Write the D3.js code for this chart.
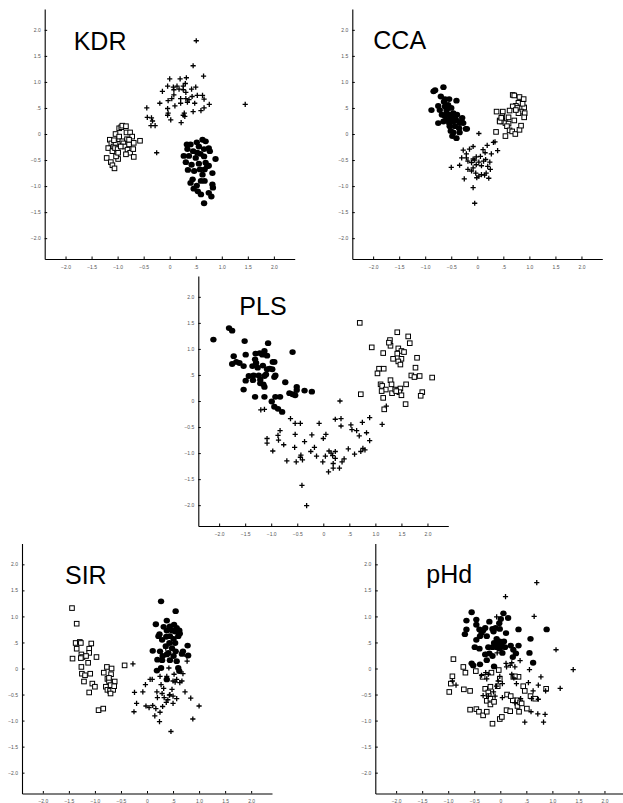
<!DOCTYPE html>
<html>
<head>
<meta charset="utf-8">
<script src="https://cdn.jsdelivr.net/npm/d3@7"></script>
<style>
  body { margin: 0; background: #fff; }
  svg { display: block; }
  .tick text { font-family: "Liberation Sans", Arial, sans-serif; font-size: 5px; fill: #555; }
  .title { font-family: "Liberation Sans", Arial, sans-serif; font-size: 25px; fill: #000; }
</style>
</head>
<body>
<svg id="chart" width="623" height="803"></svg>
<script>
// tick values shared by every panel
var tickValues = [-2, -1.5, -1, -0.5, 0, 0.5, 1, 1.5, 2];
var axisDomain = [-2.4, 2.4];

// ---- KDR ----
var kdrPlus = [[0.51,1.79],[0.45,1.31],[0.65,1.11],[0,1.06],[0.2,1.06],[0.32,1.08],[0.3,0.97],[0.26,0.92],
  [-0.04,0.92],[0.07,0.9],[0.14,0.92],[-0.14,0.82],[0.08,0.85],[0.18,0.86],[0.26,0.85],[0.42,0.86],[0.5,0.9],
  [0.31,0.8],[0.21,0.68],[0.31,0.68],[0.37,0.66],[0.43,0.72],[0.53,0.74],[0.63,0.74],[0.66,0.67],[0.76,0.57],
  [0.66,0.5],[0.6,0.45],[0.45,0.43],[0.48,0.59],[0.34,0.61],[0.21,0.59],[0.1,0.54],[-0.04,0.49],[-0.03,0.4],
  [-0.04,0.36],[0.02,0.27],[0.28,0.4],[0.29,0.34],[0.26,0.36],[0.22,0.22],[-0.03,0.64],[-0.19,0.59],[-0.44,0.5],
  [-0.43,0.32],[-0.35,0.31],[-0.33,0.25],[-0.36,0.16],[-0.28,0.16],[-0.25,-0.36],[1.45,0.57],[0.04,0.68],[0.08,0.75]];
var kdrSquare = [[-1.21,-0.46],[-1.13,-0.54],[-1.1,-0.6],[-1.06,-0.66],[-0.99,-0.48],[-1.03,-0.43],[-1.18,-0.27],
  [-1.15,-0.11],[-1.12,-0.18],[-1.08,-0.24],[-1.1,-0.33],[-1.05,-0.27],[-1.0,-0.29],[-1.04,-0.17],[-0.97,-0.1],
  [-1.04,0.0],[-0.97,-0.05],[-0.97,0.11],[-0.93,0.13],[-0.91,0.16],[-0.84,0.15],[-0.83,0.03],[-0.76,0.03],
  [-0.72,-0.05],[-0.82,-0.1],[-0.91,-0.14],[-0.89,-0.18],[-0.86,-0.24],[-0.78,-0.2],[-0.81,-0.3],[-0.76,-0.36],
  [-0.84,-0.39],[-0.7,-0.29],[-0.69,-0.17],[-0.57,-0.13],[-0.69,-0.44],[-0.78,-0.11],[-0.94,-0.24],[-0.99,-0.36],
  [-1.07,-0.12]];
var kdrCircle = [[0.63,-0.11],[0.69,-0.14],[0.52,-0.16],[0.4,-0.2],[0.56,-0.24],[0.75,-0.27],[0.66,-0.29],
  [0.34,-0.29],[0.45,-0.33],[0.59,-0.38],[0.77,-0.33],[0.27,-0.42],[0.37,-0.42],[0.5,-0.46],[0.66,-0.43],
  [0.88,-0.48],[0.31,-0.54],[0.42,-0.59],[0.56,-0.57],[0.69,-0.55],[0.75,-0.61],[0.35,-0.69],[0.47,-0.71],
  [0.58,-0.68],[0.67,-0.68],[0.82,-0.75],[0.63,-0.78],[0.44,-0.87],[0.6,-0.9],[0.4,-0.94],[0.52,-0.99],
  [0.67,-0.9],[0.82,-0.97],[0.46,-1.05],[0.54,-1.1],[0.6,-1.16],[0.75,-1.13],[0.8,-1.2],[0.66,-1.33],
  [0.83,-1.03],[0.72,-0.62],[0.53,-0.36],[0.33,-0.2]];

// ---- CCA ----
var ccaCircle = [[-0.84,0.82],[-0.81,0.84],[-0.65,0.9],[-0.7,0.72],[-0.62,0.67],[-0.54,0.67],[-0.4,0.64],
  [-0.88,0.46],[-0.75,0.54],[-0.72,0.46],[-0.62,0.53],[-0.56,0.56],[-0.5,0.5],[-0.59,0.4],[-0.52,0.37],
  [-0.46,0.4],[-0.43,0.32],[-0.56,0.27],[-0.75,0.21],[-0.65,0.24],[-0.53,0.15],[-0.46,0.24],[-0.4,0.26],
  [-0.34,0.21],[-0.29,0.31],[-0.35,0.11],[-0.22,0.1],[-0.2,0.1],[-0.34,0.03],[-0.46,0.03],[-0.48,-0.04],
  [-0.4,-0.08],[-0.51,0.06],[-0.64,0.62],[-0.59,0.46],[-0.68,0.37],[-0.5,0.31],[-0.39,0.37],[-0.3,0.24],
  [-0.27,0.21],[-0.54,0.21],[-0.62,0.34],[-0.43,0.15],[-0.56,0.5]];
var ccaSquare = [[0.68,0.75],[0.71,0.74],[0.81,0.71],[0.89,0.67],[0.79,0.6],[0.9,0.51],[0.74,0.54],[0.68,0.53],
  [0.62,0.45],[0.49,0.43],[0.37,0.43],[0.77,0.5],[0.84,0.43],[0.91,0.4],[0.9,0.32],[0.79,0.4],[0.74,0.46],
  [0.48,0.34],[0.43,0.26],[0.48,0.24],[0.54,0.21],[0.6,0.2],[0.43,0.24],[0.57,0.15],[0.62,0.07],[0.67,0.05],
  [0.73,0.0],[0.81,0.08],[0.84,0.16],[0.71,0.26],[0.54,-0.04],[0.36,0.04],[0.46,0.31],[0.6,0.32],[0.87,0.58]];
var ccaPlus = [[0.03,0.01],[0.31,-0.16],[0.34,-0.15],[0.39,-0.32],[0.19,-0.22],[0.11,-0.3],[0.15,-0.36],
  [0.06,-0.43],[-0.02,-0.44],[-0.05,-0.5],[-0.08,-0.24],[-0.15,-0.29],[-0.27,-0.31],[-0.3,-0.46],[-0.34,-0.6],
  [-0.21,-0.38],[-0.18,-0.52],[-0.11,-0.55],[-0.08,-0.65],[-0.02,-0.59],[0.03,-0.54],[0.08,-0.61],[0.12,-0.52],
  [0.16,-0.49],[0.2,-0.62],[0.24,-0.54],[0.25,-0.68],[0.17,-0.75],[0.14,-0.79],[0.08,-0.78],[-0.01,-0.84],
  [0.03,-0.81],[-0.03,-0.75],[-0.11,-0.71],[-0.18,-0.68],[-0.25,-0.86],[-0.5,-0.64],[-0.08,-1.03],[-0.05,-1.33],
  [0.22,-0.85],[0.27,-0.38],[-0.08,-0.48],[-0.21,-0.46]];

// ---- PLS ----
var plsCircle = [[-2.11,1.18],[-1.81,1.4],[-1.75,1.35],[-1.51,1.15],[-1.06,1.11],[-1.72,0.86],[-1.75,0.71],
  [-1.67,0.75],[-1.61,0.73],[-1.53,0.67],[-1.49,0.89],[-1.3,0.91],[-1.22,0.92],[-1.17,0.89],[-1.13,0.96],
  [-1.08,0.87],[-1.31,0.8],[-1.29,0.73],[-1.36,0.67],[-1.26,0.64],[-1.16,0.68],[-1.08,0.61],[-0.97,0.75],
  [-0.94,0.75],[-0.98,0.61],[-1.03,0.62],[-1.43,0.48],[-1.49,0.39],[-1.34,0.49],[-1.35,0.4],[-1.24,0.49],
  [-1.21,0.41],[-1.13,0.48],[-1.1,0.51],[-1.21,0.34],[-1.13,0.27],[-1.15,0.32],[-0.92,0.49],[-0.94,0.46],
  [-0.73,0.36],[-0.59,0.94],[-0.65,0.15],[-0.59,0.13],[-0.54,0.11],[-0.51,0.21],[-0.51,0.27],[-0.36,0.2],
  [-0.22,0.18],[-1.53,0.22],[-1.31,0.08],[-1.13,0.08],[-0.92,0.08],[-0.83,0.08],[-0.99,-0.01],[-0.94,-0.11],
  [-0.87,-0.15],[-0.79,-0.21]];
var plsSquare = [[0.7,1.5],[0.93,1.03],[1.15,0.92],[1.28,1.17],[1.29,1.06],[1.26,1.12],[1.42,1.32],[1.63,1.24],
  [1.66,1.11],[1.44,1.01],[1.5,0.96],[1.55,0.94],[1.42,0.91],[1.34,0.81],[1.5,0.81],[1.44,0.76],[1.48,0.7],
  [1.8,0.83],[1.77,0.64],[1.07,0.62],[1.16,0.62],[1.04,0.53],[1.69,0.49],[1.75,0.46],[1.85,0.48],[2.09,0.45],
  [1.29,0.4],[1.31,0.32],[1.1,0.32],[1.13,0.29],[1.2,0.22],[1.12,0.19],[1.32,0.15],[1.38,0.22],[1.44,0.21],
  [1.48,0.24],[1.46,0.17],[1.5,0.11],[1.59,0.32],[1.9,0.17],[1.87,0.1],[0.72,0.13],[1.15,0.06],[1.58,-0.06],
  [1.17,-0.16],[1.4,0.19]];
var plsPlus = [[-1.2,-0.17],[-1.13,-0.16],[-0.63,-0.34],[-0.54,-0.43],[-0.44,-0.43],[-0.08,-0.43],[-0.83,-0.57],
  [-0.87,-0.66],[-0.86,-0.75],[-1.08,-0.72],[-1.08,-0.81],[-0.97,-0.96],[-0.76,-0.84],[-0.54,-0.64],[-0.55,-0.89],
  [-0.7,-1.15],[-0.52,-1.17],[-0.44,-1.08],[-0.43,-1.04],[-0.36,-0.78],[-0.4,-1.13],[-0.22,-0.65],[-0.24,-0.97],
  [-0.17,-0.89],[-0.13,-1.06],[-0.01,-1.17],[0,-0.72],[0.05,-0.64],[0.04,-1.06],[0.11,-0.96],[0.15,-1.0],
  [0.18,-1.05],[0.23,-0.97],[0.23,-1.1],[0.19,-1.2],[0.19,-1.29],[0.1,-1.36],[0.31,-1.29],[0.36,-1.17],
  [0.4,-1.11],[0.48,-0.92],[0.6,-1.02],[0.72,-0.97],[0.76,-0.91],[0.8,-0.94],[0.53,-0.46],[0.55,-0.55],
  [0.64,-0.57],[0.69,-0.67],[0.83,-0.61],[0.89,-0.76],[0.75,-0.41],[0.89,-0.32],[0.34,-0.34],[0.34,-0.48],
  [0.23,-0.35],[0.32,0],[1.13,-0.45],[1.21,-0.1],[-0.41,-1.62],[-0.32,-2.01]];

// ---- SIR ----
var sirSquare = [[-1.44,1.16],[-1.35,0.86],[-1.37,0.49],[-1.29,0.51],[-1.27,0.49],[-1.35,0.38],[-1.43,0.19],
  [-1.07,0.48],[-1.11,0.38],[-1.11,0.3],[-1.26,0.27],[-1.24,0.22],[-1.17,0.24],[-1.27,0.2],[-0.97,0.22],
  [-1.13,0.11],[-1.26,0.03],[-1.25,-0.1],[-1.19,-0.13],[-1.09,-0.1],[-1.21,-0.25],[-1.05,-0.29],[-1.0,-0.35],
  [-1.11,-0.46],[-0.93,-0.8],[-0.84,-0.77],[-0.77,0.03],[-0.68,0],[-0.83,-0.08],[-0.69,-0.11],[-0.76,-0.2],
  [-0.73,-0.24],[-0.62,-0.25],[-0.7,-0.32],[-0.79,-0.35],[-0.76,-0.41],[-0.71,-0.43],[-0.65,-0.41],[-0.7,-0.48],
  [-0.63,-0.34],[-0.43,0.06],[-0.73,-0.18]];
var sirCircle = [[0.27,1.29],[0.55,1.1],[0.17,0.85],[0.38,0.92],[0.32,0.8],[0.44,0.81],[0.52,0.84],[0.57,0.78],
  [0.62,0.73],[0.54,0.71],[0.48,0.73],[0.38,0.73],[0.24,0.66],[0.22,0.62],[0.29,0.55],[0.37,0.61],[0.44,0.62],
  [0.51,0.57],[0.6,0.62],[0.63,0.67],[0.43,0.49],[0.54,0.49],[0.36,0.43],[0.48,0.39],[0.55,0.33],[0.69,0.33],
  [0.11,0.34],[0.78,0.44],[0.79,0.25],[0.67,0.28],[0.51,0.24],[0.38,0.27],[0.3,0.24],[0.2,0.17],[0.29,0.16],
  [0.44,0.16],[0.57,0.14],[0.6,0.01],[0.62,-0.05],[0.19,-0.04],[0.27,0.01],[0.38,-0.21],[0.41,0.3],[0.25,0.33]];
var sirPlus = [[-0.27,0.09],[-0.24,-0.46],[-0.2,-0.67],[-0.25,-0.83],[-0.08,-0.45],[-0.03,-0.31],[-0.02,-0.72],
  [0.06,-0.21],[0.1,-0.21],[0.04,-0.75],[0.11,-0.71],[0.15,-0.91],[0.17,-0.77],[0.19,-0.45],[0.2,-0.56],
  [0.25,-0.15],[0.27,-0.31],[0.29,-0.48],[0.32,-0.38],[0.25,-0.84],[0.24,-1.02],[0.3,-0.73],[0.33,-0.56],
  [0.37,-0.65],[0.4,-0.6],[0.42,0.01],[0.43,-0.51],[0.44,-0.5],[0.48,-0.4],[0.5,-0.53],[0.5,-0.24],[0.54,-0.26],
  [0.52,-0.11],[0.5,-0.67],[0.46,-1.21],[0.57,-0.58],[0.63,-0.27],[0.67,-0.24],[0.69,-0.1],[0.73,-0.45],
  [0.76,0.24],[0.77,0.14],[0.84,-0.57],[0.88,-0.97],[1.0,-0.72],[0.36,0.39],[0.38,-0.15],[0.57,-0.21]];

// ---- pHd ----
var phdCircle = [[-0.55,1.08],[0.06,1.06],[-0.65,0.92],[-0.46,0.94],[-0.21,0.9],[0.01,0.95],[0.15,0.97],
  [-0.02,0.87],[-0.09,0.78],[-0.01,0.76],[0.35,0.75],[0.89,0.75],[-0.65,0.75],[-0.68,0.66],[-0.46,0.84],
  [-0.4,0.75],[-0.33,0.73],[-0.29,0.78],[-0.36,0.68],[-0.39,0.62],[-0.46,0.55],[-0.15,0.76],[-0.13,0.71],
  [0.11,0.68],[-0.26,0.62],[0.58,0.57],[-0.07,0.57],[-0.01,0.52],[0.07,0.52],[-0.12,0.49],[-0.04,0.48],
  [0.03,0.44],[-0.07,0.41],[0.09,0.41],[-0.49,0.41],[-0.4,0.38],[-0.23,0.41],[-0.15,0.41],[-0.01,0.38],
  [0.2,0.44],[0.35,0.44],[0.25,0.36],[0.56,0.3],[-0.29,0.27],[-0.15,0.24],[0.04,0.3],[0.3,0.29],[0.24,0.22],
  [-0.26,0.16],[0.63,0.11],[-0.55,0.1],[-0.52,0.06],[-0.39,0.08],[-0.12,0.04],[-0.21,0.29]];
var phdSquare = [[-0.9,0.18],[-0.71,0.03],[-0.67,-0.08],[-0.47,-0.05],[-0.92,-0.15],[-0.95,-0.29],[-0.98,-0.45],
  [-0.7,-0.4],[-0.58,-0.43],[-0.34,-0.16],[-0.17,-0.08],[-0.03,-0.03],[-0.01,-0.2],[-0.05,-0.34],[-0.19,-0.35],
  [-0.29,-0.39],[-0.23,-0.46],[-0.22,-0.53],[-0.26,-0.62],[-0.19,-0.58],[-0.19,-0.69],[-0.12,-0.64],[-0.46,-0.78],
  [-0.41,-0.83],[-0.33,-0.9],[-0.26,-0.83],[-0.58,-0.79],[-0.15,-1.06],[-0.01,-0.97],[0.03,-0.93],[0.12,-0.8],
  [0.19,-0.82],[0.13,-0.5],[0.24,-0.61],[0.33,-0.61],[0.33,-0.72],[0.36,-0.83],[0.25,-0.16],[0.35,-0.16],
  [0.28,-0.15],[0.38,-0.65],[0.41,-0.67],[0.44,-0.34],[0.47,-0.43],[0.51,-0.77],[0.58,-0.53],[0.67,-0.58],
  [0.88,-0.39],[0.2,-0.53]];
var phdPlus = [[0.7,1.65],[0.1,1.38],[0.65,1.0],[-0.07,0.99],[1.07,0.36],[-0.28,0.27],[-0.06,0.3],[0.38,0.15],
  [0.11,0.1],[0.19,0.06],[0.22,0.11],[0.28,0.03],[0.12,0.03],[0.56,-0.02],[1.4,-0.02],[-0.28,-0.08],[-0.23,-0.11],
  [-0.36,-0.13],[-0.26,-0.2],[-0.01,-0.15],[-0.04,-0.24],[-0.07,-0.34],[0.04,-0.29],[0.22,-0.11],[0.26,-0.18],
  [0.31,-0.29],[0.54,-0.27],[0.78,-0.16],[0.73,-0.32],[1.15,-0.38],[0.87,-0.43],[-0.33,-0.52],[-0.23,-0.53],
  [-0.1,-0.53],[0.04,-0.56],[0.39,-0.58],[0.6,-0.58],[0.73,-0.59],[0.63,-0.43],[-0.92,-0.24],[-0.85,-0.32],
  [0.47,-1.03],[0.83,-1.03],[0.59,-0.83],[0.72,-0.87],[0.86,-0.88],[-0.13,-0.45],[0.28,-0.66]];

// panel layout: left/top of the plot box, and title offset inside it
var panels = [
  { name: "KDR", left: 44.7,  top: 9,     tx: 29, ty: 41,   plus: kdrPlus, square: kdrSquare, circle: kdrCircle },
  { name: "CCA", left: 352.3, top: 9,     tx: 21, ty: 39.5, plus: ccaPlus, square: ccaSquare, circle: ccaCircle },
  { name: "PLS", left: 198.3, top: 276,   tx: 41, ty: 39,   plus: plsPlus, square: plsSquare, circle: plsCircle },
  { name: "SIR", left: 22,    top: 543.5, tx: 43, ty: 40.8, plus: sirPlus, square: sirSquare, circle: sirCircle },
  { name: "pHd", left: 375.3, top: 543.5, tx: 51, ty: 39.8, plus: phdPlus, square: phdSquare, circle: phdCircle }
];

var size = 250;

function fmt(v){
  if (v === 0) return "0";
  return d3.format(".1f")(v).replace(/^(-?)0\./, "$1.");
}

function drawPanel(svg, p){
  var x = d3.scaleLinear().domain(axisDomain).range([0, size]);
  var y = d3.scaleLinear().domain(axisDomain).range([size, 0]);

  var g = svg.append("g").attr("transform", "translate(" + p.left + "," + p.top + ")");

  g.append("g")
    .attr("transform", "translate(0," + size + ")")
    .call(d3.axisBottom(x).tickValues(tickValues).tickFormat(fmt)
      .tickSizeInner(-2.5).tickSizeOuter(0).tickPadding(6));

  g.append("g")
    .call(d3.axisLeft(y).tickValues(tickValues).tickFormat(fmt)
      .tickSizeInner(-2.5).tickSizeOuter(0).tickPadding(4));

  g.selectAll(".domain").attr("stroke", "#000").attr("stroke-width", 1.1);
  g.selectAll(".tick line").attr("stroke", "#000").attr("stroke-width", 1);

  g.append("text").attr("class", "title")
    .attr("x", p.tx).attr("y", p.ty)
    .text(p.name);

  // open squares
  g.selectAll(".sq").data(p.square).enter().append("rect")
    .attr("class", "sq")
    .attr("x", function(d){ return x(d[0]) - 2.3; })
    .attr("y", function(d){ return y(d[1]) - 2.3; })
    .attr("width", 4.6).attr("height", 4.6)
    .attr("fill", "#fff").attr("stroke", "#000").attr("stroke-width", 1);

  // plus signs
  g.selectAll(".pl").data(p.plus).enter().append("path")
    .attr("class", "pl")
    .attr("d", function(d){
      var cx = x(d[0]), cy = y(d[1]);
      return "M" + (cx - 2.6) + "," + cy + "H" + (cx + 2.6) + "M" + cx + "," + (cy - 2.6) + "V" + (cy + 2.6);
    })
    .attr("stroke", "#000").attr("stroke-width", 1.3).attr("fill", "none");

  // filled circles
  g.selectAll(".ci").data(p.circle).enter().append("ellipse")
    .attr("class", "ci")
    .attr("cx", function(d){ return x(d[0]); })
    .attr("cy", function(d){ return y(d[1]); })
    .attr("rx", 3.2).attr("ry", 2.9)
    .attr("fill", "#000");
}

var svg = d3.select("#chart");
panels.forEach(function(p){ drawPanel(svg, p); });
</script>
</body>
</html>
